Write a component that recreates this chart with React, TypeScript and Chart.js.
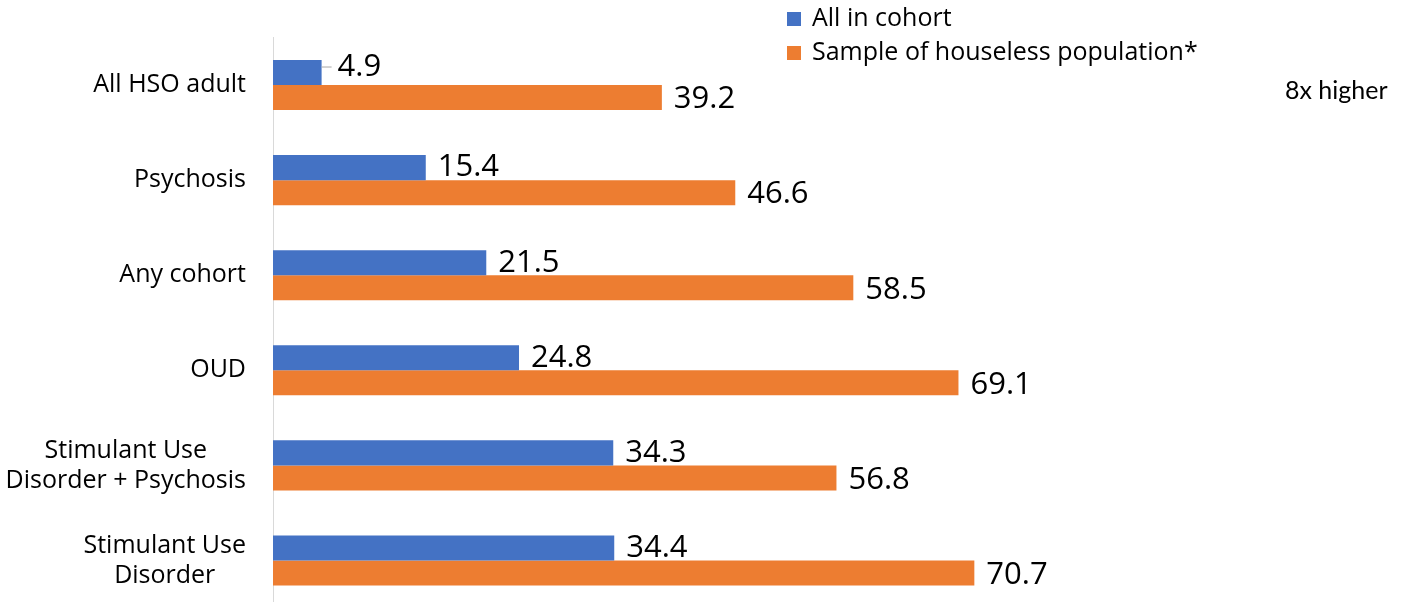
import React, { useEffect, useRef } from "react";
import { Chart, registerables } from "chart.js";

Chart.register(...registerables);

const categories: string[][] = [
  ["All HSO adult"],
  ["Psychosis"],
  ["Any cohort"],
  ["OUD"],
  ["Stimulant Use", "Disorder + Psychosis"],
  ["Stimulant Use", "Disorder"],
];
const seriesNames = ["All in cohort", "Sample of houseless population*"];
const allInCohort = [4.9, 15.4, 21.5, 24.8, 34.3, 34.4];
const houselessSample = [39.2, 46.6, 58.5, 69.1, 56.8, 70.7];
const annotationText = "8x higher";

const BLUE = "#4472C4";
const ORANGE = "#ED7D31";
const FONT = "'Open Sans', sans-serif";

const customPlugin = {
  id: "customDraw",
  afterDraw(chart: any) {
    const ctx = chart.ctx as CanvasRenderingContext2D;
    const area = chart.chartArea;
    ctx.save();

    // category labels (right-aligned block, centered lines)
    const yScale = chart.scales.y;
    ctx.font = `25px ${FONT}`;
    ctx.fillStyle = "#000";
    ctx.textBaseline = "middle";
    ctx.textAlign = "center";
    const lineH = 30;
    categories.forEach((lines, i) => {
      const cy = yScale.getPixelForValue(i);
      const w = Math.max(...lines.map((l) => ctx.measureText(l).width));
      const right = area.left - 27;
      const cx = right - w / 2;
      const startY = cy - ((lines.length - 1) * lineH) / 2;
      lines.forEach((l, j) => ctx.fillText(l, cx, startY + j * lineH));
    });

    // value labels
    ctx.font = `31px ${FONT}`;
    ctx.textAlign = "left";
    chart.data.datasets.forEach((ds: any, di: number) => {
      const meta = chart.getDatasetMeta(di);
      meta.data.forEach((el: any, i: number) => {
        const v = ds.data[i];
        let y = el.y + (di === 1 ? 2 : 0);
        let x = el.x + 12;
        if (di === 0 && i === 0) {
          y = el.y - 5;
          x = el.x + 16;
          ctx.strokeStyle = "#a6a6a6";
          ctx.lineWidth = 1;
          ctx.beginPath();
          ctx.moveTo(el.x, el.y - 5.5);
          ctx.lineTo(el.x + 10, el.y - 5.5);
          ctx.stroke();
        }
        ctx.fillText(v.toFixed(1), x, y);
      });
    });

    // legend
    ctx.font = `25px ${FONT}`;
    const colors = [BLUE, ORANGE];
    seriesNames.forEach((n, i) => {
      const cy = 19 + i * 34;
      ctx.fillStyle = colors[i];
      ctx.fillRect(787, cy - 7, 14, 14);
      ctx.fillStyle = "#000";
      ctx.fillText(n, 812, cy);
    });

    // annotation
    ctx.font = `25px Lato, sans-serif`;
    ctx.fillText(annotationText, 1285, 91);

    ctx.restore();
  },
};

export default function App() {
  const ref = useRef<HTMLCanvasElement | null>(null);
  useEffect(() => {
    document.body.style.margin = "0";
    document.body.style.overflow = "hidden";
    if (!ref.current) return;
    const chart = new Chart(ref.current, {
      type: "bar",
      data: {
        labels: categories.map((c) => c.join(" ")),
        datasets: [
          {
            label: seriesNames[0],
            data: allInCohort,
            backgroundColor: BLUE,
            categoryPercentage: 50 / 95,
            barPercentage: 1,
          },
          {
            label: seriesNames[1],
            data: houselessSample,
            backgroundColor: ORANGE,
            categoryPercentage: 50 / 95,
            barPercentage: 1,
          },
        ],
      },
      options: {
        indexAxis: "y",
        responsive: false,
        animation: false,
        layout: { padding: { left: 273, right: 138, top: 37.5, bottom: 0 } },
        plugins: {
          legend: { display: false },
          tooltip: { enabled: false },
        },
        scales: {
          x: {
            display: false,
            min: 0,
            max: 100,
          },
          y: {
            display: true,
            ticks: { display: false },
            grid: { display: false, drawTicks: false },
            border: { display: true, color: "#d9d9d9", width: 1 },
          },
        },
      },
      plugins: [customPlugin],
    });
    return () => chart.destroy();
  }, []);
  return (
    <div style={{ width: 1403, height: 602, overflow: "hidden" }}>
      <canvas ref={ref} width={1403} height={608} style={{ display: "block" }} />
    </div>
  );
}
